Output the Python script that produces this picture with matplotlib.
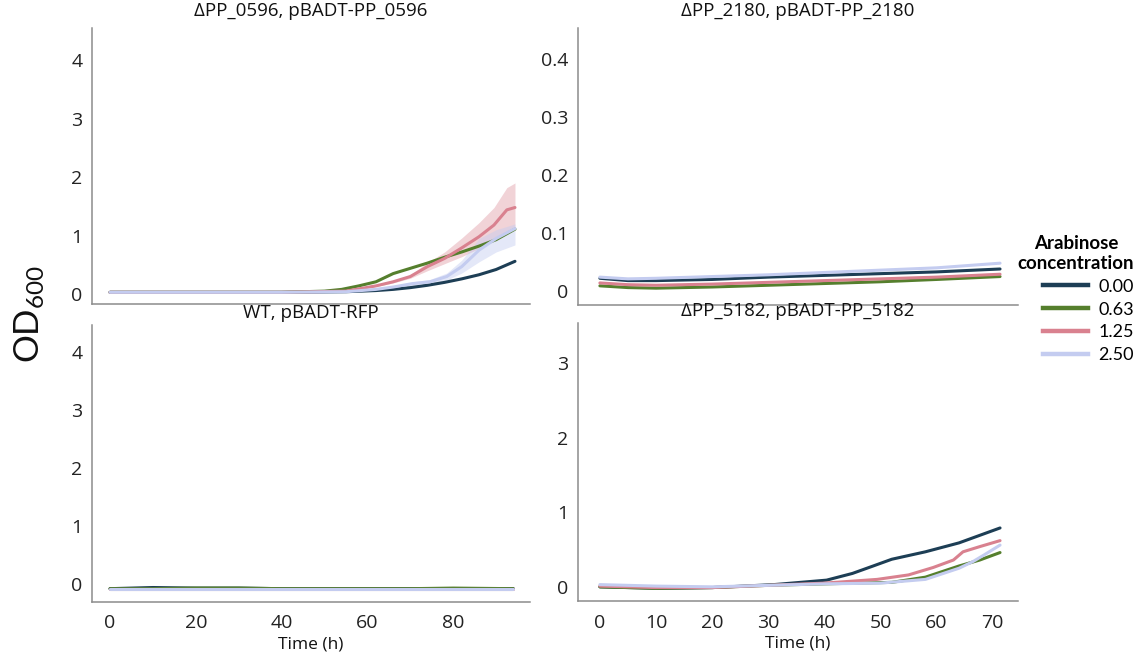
import matplotlib
matplotlib.use("Agg")
import matplotlib.pyplot as plt
from matplotlib.lines import Line2D

plt.rcParams['font.family'] = ['Open Sans', 'DejaVu Sans']
plt.rcParams['mathtext.fontset'] = 'custom'
plt.rcParams['mathtext.rm'] = 'Lato'
plt.rcParams['mathtext.it'] = 'Lato'

# ---- data -------------------------------------------------------------
concentrations = ["0.00", "0.63", "1.25", "2.50"]
colors = ["#1d3e55", "#557f2d", "#d9818f", "#c4ccf0"]

titles = ["\u0394PP_0596, pBADT-PP_0596", "\u0394PP_2180, pBADT-PP_2180",
          "WT, pBADT-RFP", "\u0394PP_5182, pBADT-PP_5182"]

# PP_0596 strain (hours, OD600)
t_0596_a = [0, 20, 40, 55, 62, 66, 70, 74, 78, 82, 86, 90, 94.4]
od_0596_000 = [0.03, 0.03, 0.03, 0.04, 0.06, 0.08, 0.11, 0.15, 0.20, 0.26, 0.33, 0.42, 0.56]
t_0596_b = [0, 20, 40, 50, 54, 58, 62, 66, 70, 74, 78, 82, 86, 90, 94.4]
od_0596_063 = [0.03, 0.03, 0.03, 0.05, 0.08, 0.14, 0.21, 0.35, 0.44, 0.53, 0.63, 0.72, 0.82, 0.93, 1.11]
t_0596_c = [0, 20, 40, 55, 62, 66, 70, 74, 78, 82, 86, 89.5, 92.5, 94.4]
od_0596_125 = [0.03, 0.03, 0.03, 0.05, 0.14, 0.21, 0.30, 0.47, 0.61, 0.79, 0.98, 1.18, 1.44, 1.48]
od_0596_125_lo = [0.03, 0.03, 0.03, 0.05, 0.13, 0.19, 0.27, 0.40, 0.52, 0.64, 0.78, 0.92, 1.08, 1.10]
od_0596_125_hi = [0.03, 0.03, 0.03, 0.05, 0.15, 0.23, 0.33, 0.54, 0.72, 0.96, 1.22, 1.48, 1.82, 1.90]
t_0596_d = [0, 20, 40, 55, 62, 66, 70.6, 74.6, 78.5, 82, 86, 90, 94.4]
od_0596_250 = [0.03, 0.03, 0.03, 0.04, 0.08, 0.12, 0.18, 0.21, 0.30, 0.47, 0.75, 0.95, 1.12]
od_0596_250_lo = [0.03, 0.03, 0.03, 0.04, 0.07, 0.10, 0.15, 0.17, 0.24, 0.36, 0.55, 0.72, 0.84]
od_0596_250_hi = [0.03, 0.03, 0.03, 0.04, 0.09, 0.14, 0.21, 0.25, 0.36, 0.58, 0.95, 1.10, 1.20]

# PP_2180 strain
t_2180 = [0, 5, 10, 20, 30, 40, 50, 60, 71.3]
od_2180_000 = [0.022, 0.018, 0.018, 0.020, 0.024, 0.027, 0.030, 0.033, 0.038]
od_2180_063 = [0.009, 0.006, 0.005, 0.007, 0.010, 0.013, 0.016, 0.020, 0.025]
od_2180_125 = [0.014, 0.011, 0.010, 0.012, 0.015, 0.018, 0.021, 0.024, 0.029]
od_2180_250 = [0.024, 0.021, 0.022, 0.025, 0.028, 0.032, 0.036, 0.040, 0.048]

# WT control
t_wt = [0, 10, 20, 30, 40, 50, 60, 70, 80, 94]
od_wt_000 = [-0.08, -0.06, -0.07, -0.07, -0.08, -0.08, -0.08, -0.08, -0.08, -0.08]
od_wt_063 = [-0.08, -0.08, -0.07, -0.07, -0.08, -0.08, -0.08, -0.08, -0.07, -0.08]
od_wt_125 = [-0.08, -0.08, -0.08, -0.08, -0.08, -0.08, -0.08, -0.08, -0.08, -0.08]
od_wt_250 = [-0.09, -0.09, -0.09, -0.09, -0.09, -0.09, -0.09, -0.09, -0.09, -0.09]

# PP_5182 strain
t_5182_a = [0, 10.7, 20, 31, 40.4, 45, 48.7, 52, 58, 64, 71.3]
od_5182_000 = [0.00, -0.02, -0.01, 0.03, 0.09, 0.18, 0.28, 0.37, 0.47, 0.59, 0.79]
t_5182_b = [0, 10, 20, 30, 40, 46, 52, 58, 64, 67.7, 71.3]
od_5182_063 = [0.00, -0.02, -0.01, 0.02, 0.04, 0.05, 0.06, 0.13, 0.28, 0.36, 0.46]
t_5182_c = [0, 10, 20, 30, 40, 49.4, 55, 59.4, 63, 64.7, 67.7, 71.3]
od_5182_125 = [0.01, -0.01, -0.01, 0.02, 0.05, 0.10, 0.16, 0.26, 0.36, 0.47, 0.54, 0.62]
t_5182_d = [0, 10, 20, 30, 40, 50, 58, 64, 66.5, 68.5, 71.3]
od_5182_250 = [0.03, 0.01, 0.00, 0.02, 0.04, 0.05, 0.10, 0.25, 0.34, 0.43, 0.56]

panels = [
    [(t_0596_a, od_0596_000), (t_0596_b, od_0596_063), (t_0596_c, od_0596_125), (t_0596_d, od_0596_250)],
    [(t_2180, od_2180_000), (t_2180, od_2180_063), (t_2180, od_2180_125), (t_2180, od_2180_250)],
    [(t_wt, od_wt_000), (t_wt, od_wt_063), (t_wt, od_wt_125), (t_wt, od_wt_250)],
    [(t_5182_a, od_5182_000), (t_5182_b, od_5182_063), (t_5182_c, od_5182_125), (t_5182_d, od_5182_250)],
]

# ---- figure -----------------------------------------------------------
W, H = 1139, 654
fig = plt.figure(figsize=(W / 100, H / 100), dpi=100)

def box(l, r, t, b):
    return [l / W, 1 - b / H, (r - l) / W, (b - t) / H]

axes = [
    fig.add_axes(box(92, 530, 28, 304)),
    fig.add_axes(box(578, 1018, 28, 305)),
    fig.add_axes(box(92, 530, 325, 602)),
    fig.add_axes(box(578, 1018, 323, 601)),
]

xlims = [(-4.2, 97.9), (-3.9, 74.5), (-4.2, 97.9), (-3.9, 74.5)]
ylims = [(-0.17, 4.55), (-0.024, 0.453), (-0.31, 4.47), (-0.19, 3.54)]
yticks = [[0, 1, 2, 3, 4], [0, 0.1, 0.2, 0.3, 0.4], [0, 1, 2, 3, 4], [0, 1, 2, 3]]
yticklabels = [["0", "1", "2", "3", "4"], ["0", "0.1", "0.2", "0.3", "0.4"],
               ["0", "1", "2", "3", "4"], ["0", "1", "2", "3"]]
xticks = [[0, 20, 40, 60, 80], [0, 10, 20, 30, 40, 50, 60, 70]]

# confidence bands for the PP_0596 panel
axes[0].fill_between(t_0596_c, od_0596_125_lo, od_0596_125_hi, color=colors[2],
                     alpha=0.35, linewidth=0, zorder=1)
axes[0].fill_between(t_0596_d, od_0596_250_lo, od_0596_250_hi, color=colors[3],
                     alpha=0.45, linewidth=0, zorder=1)

for i, ax in enumerate(axes):
    for (t, od), c in zip(panels[i], colors):
        ax.plot(t, od, color=c, lw=2.2, solid_capstyle='round', zorder=2)
    ax.set_xlim(*xlims[i])
    ax.set_ylim(*ylims[i])
    ax.set_yticks(yticks[i])
    ax.set_yticklabels(yticklabels[i])
    ax.set_xticks(xticks[i % 2])
    for s in ("top", "right"):
        ax.spines[s].set_visible(False)
    for s in ("left", "bottom"):
        ax.spines[s].set_color("#8c8c8c")
        ax.spines[s].set_linewidth(1.1)
    ax.tick_params(length=0, labelsize=14, pad=7, colors="#222222")
    ax.tick_params(axis="x", pad=9)
    ax.set_title(titles[i], fontsize=13.5, pad=5 if i >= 2 else 9, color="#111111")
    if i < 2:
        ax.set_xticklabels([])
    else:
        ax.set_xlabel("Time (h)", fontsize=12.5, labelpad=3, color="#111111")

fig.text(0.026, 1 - 314 / H, r"OD$_{600}$", rotation=90, fontsize=25,
         family="Lato", ha="center", va="center", color="#111111")

handles = [Line2D([0], [0], color=c, lw=3.2) for c in colors]
leg = fig.legend(handles, concentrations, loc="upper center",
                 bbox_to_anchor=(1076 / W, 1 - 226 / H), frameon=False,
                 prop={"family": "Lato", "size": 13},
                 title="Arabinose\nconcentration",
                 title_fontproperties={"family": "Lato", "weight": "bold", "size": 13.5},
                 handlelength=2.5, handletextpad=0.6, labelspacing=0.38,
                 borderpad=0, alignment="right")
leg.get_title().set_multialignment("center")

fig.savefig("out.png", dpi=100)
